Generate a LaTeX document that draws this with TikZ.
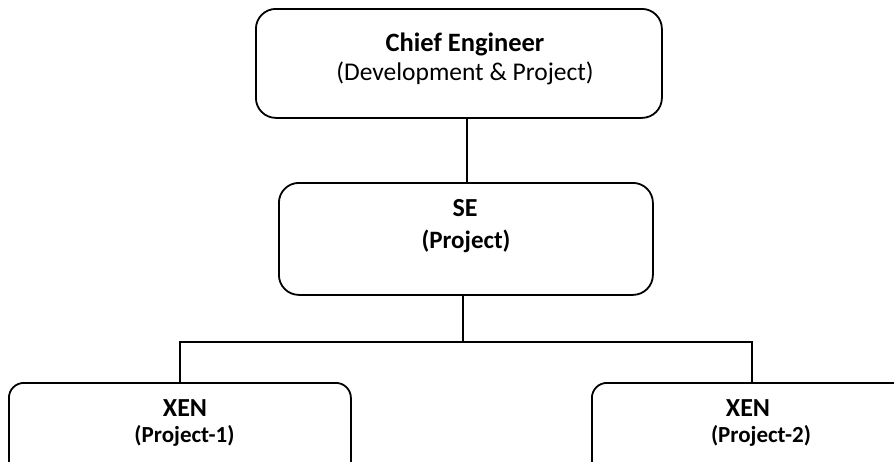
\documentclass[tikz,border=0pt]{standalone}
\usepackage{fontspec}
\setmainfont{Carlito}
\usetikzlibrary{calc}
\begin{document}
\begin{tikzpicture}[x=1pt,y=-1pt,
  box/.style={draw,line width=1.8pt,rounded corners=20pt,inner sep=0pt,anchor=north west},
  link/.style={draw,line width=1.1pt},
  lbl/.style={inner sep=0pt}]
\useasboundingbox (0,0) rectangle (894,461);
\clip (0,0) rectangle (894,461);
% boxes
\node[box,minimum width=406pt,minimum height=109pt] (chief) at (255,8) {};
\node[box,minimum width=374pt,minimum height=112pt] (se) at (278,182) {};
\node[box,rounded corners=15pt,minimum width=342pt,minimum height=110pt] (x1) at (8,382) {};
\node[box,rounded corners=15pt,minimum width=342pt,minimum height=110pt] (x2) at (591,382) {};
% labels
\node[lbl,font=\fontsize{26.5}{30}\selectfont\bfseries] (t1) at (465,44) {Chief Engineer};
\node[lbl,font=\fontsize{25.5}{30}\selectfont] (t2) at (465,73) {(Development \& Project)};
\node[lbl,font=\fontsize{26}{28}\selectfont\bfseries] (t3) at (465,208) {SE};
\node[lbl,font=\fontsize{25}{28}\selectfont\bfseries] (t4) at (466,241) {(Project)};
\node[lbl,font=\fontsize{26}{28}\selectfont\bfseries] (t5) at (185,408) {XEN};
\node[lbl,font=\fontsize{23}{26}\selectfont\bfseries] (t6) at (184.5,436) {(Project-1)};
\node[lbl,font=\fontsize{26}{28}\selectfont\bfseries] (t7) at (748,408) {XEN};
\node[lbl,font=\fontsize{23}{26}\selectfont\bfseries] (t8) at (761,436) {(Project-2)};
% connectors
\coordinate (a) at (467,0);
\coordinate (j) at (463,342);
\coordinate (l) at (180,342);
\coordinate (r) at (752,342);
\draw[link,line width=1.5pt] (chief.south -| a) -- (se.north -| a);
\draw[link] (se.south -| j) -- (j);
\draw[link] (x1.north -| l) -- (l) -- (r) -- (x2.north -| r);
\end{tikzpicture}
\end{document}
